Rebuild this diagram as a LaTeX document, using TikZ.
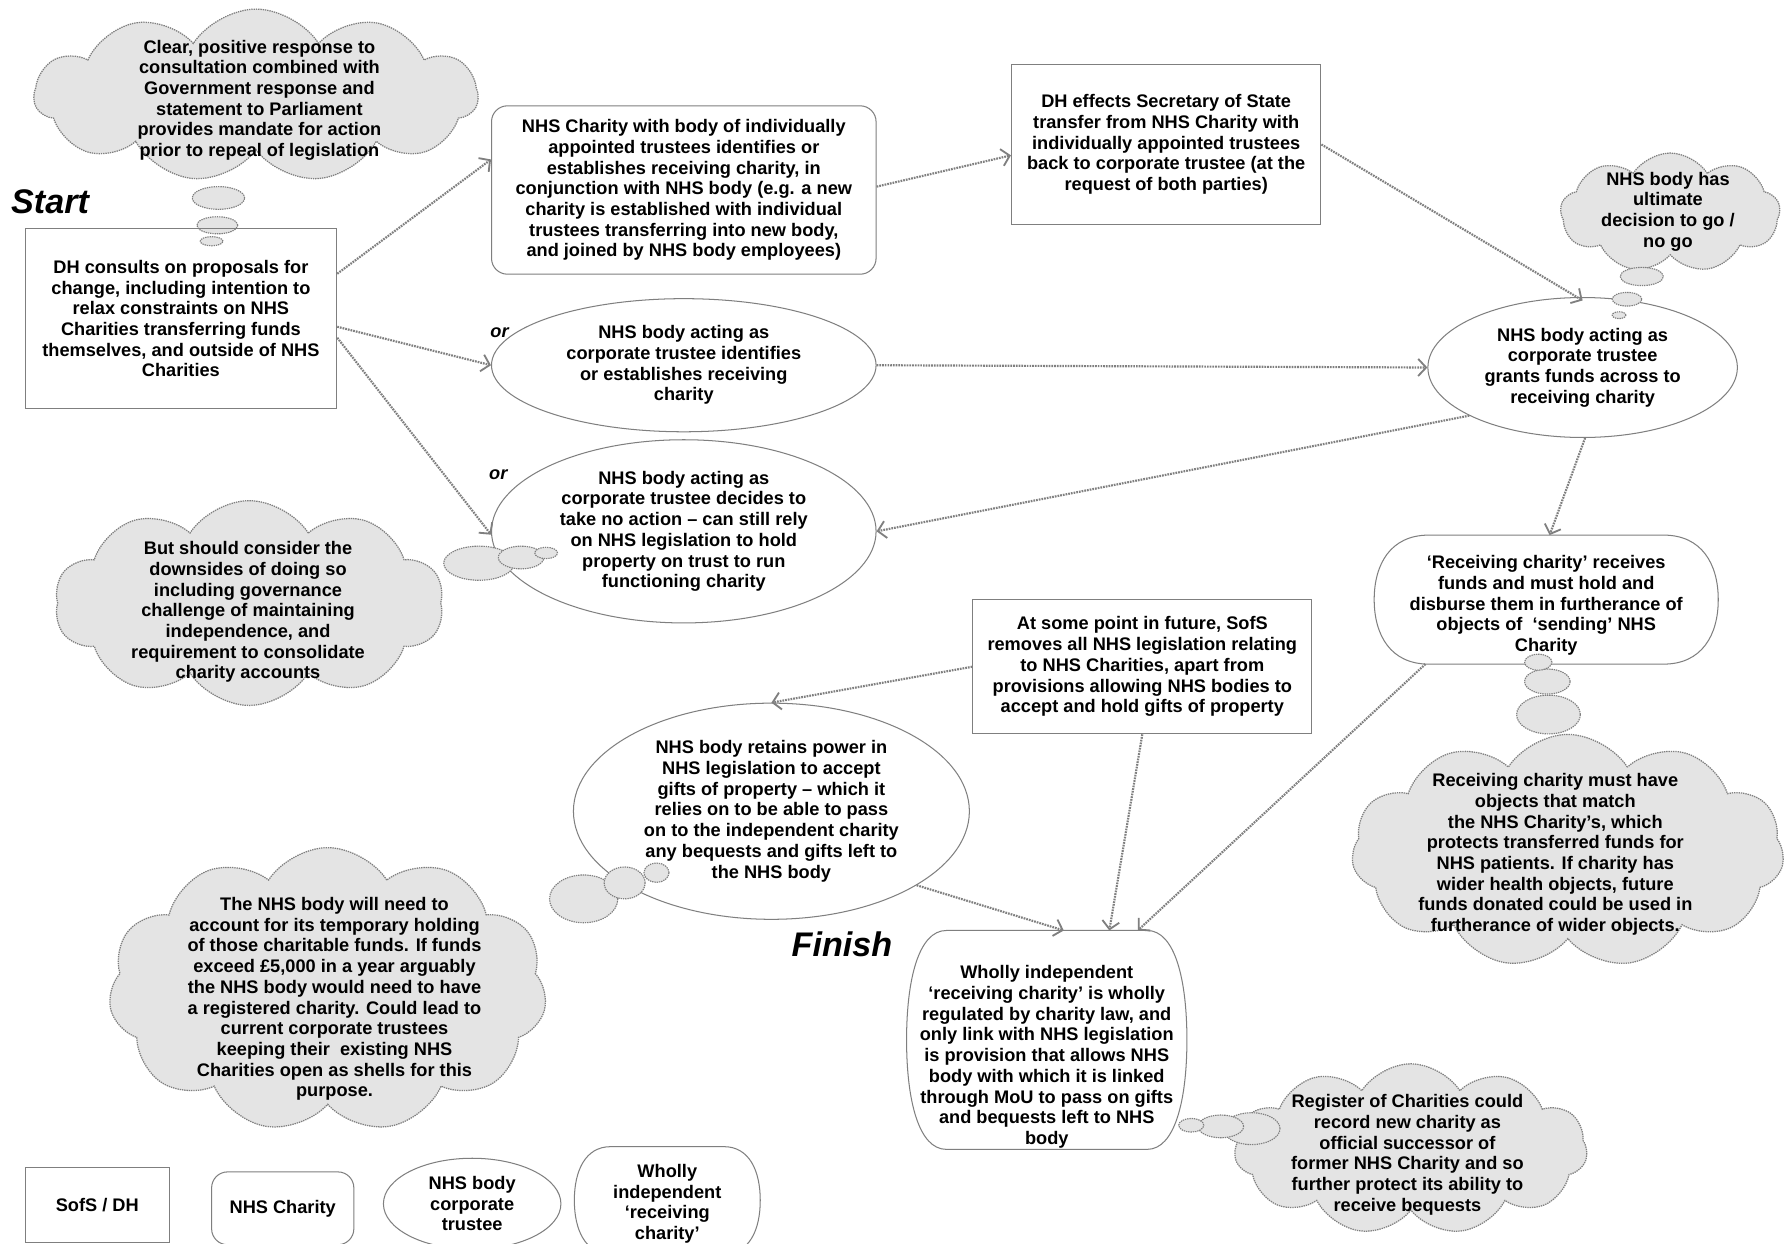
\documentclass[tikz,border=0pt]{standalone}
\usepackage{fontspec}
\setmainfont{Liberation Sans}
\usetikzlibrary{shapes.geometric,shapes.symbols,arrows.meta,calc}
\definecolor{lineg}{HTML}{7F7F7F}
\definecolor{cloudfill}{HTML}{E4E4E4}
\newcommand\barrelpath[2]{%
 \draw[shapeline]
  ([xshift=#2]#1.north west) -- ([xshift=-#2]#1.north east)
  .. controls ([xshift=-0.3*#2]#1.north east) and ($(#1.north east)!0.45!(#1.east)$) .. (#1.east)
  .. controls ($(#1.south east)!0.45!(#1.east)$) and ([xshift=-0.3*#2]#1.south east) .. ([xshift=-#2]#1.south east)
  -- ([xshift=#2]#1.south west)
  .. controls ([xshift=0.3*#2]#1.south west) and ($(#1.south west)!0.45!(#1.west)$) .. (#1.west)
  .. controls ($(#1.north west)!0.45!(#1.west)$) and ([xshift=0.3*#2]#1.north west) .. ([xshift=#2]#1.north west) -- cycle;}
\begin{document}
\begin{tikzpicture}[x=1pt,y=-1pt,
 txt/.style={font=\fontsize{16}{18.2}\selectfont\bfseries, align=center, inner sep=0pt, text=black},
 shapeline/.style={draw=lineg, line width=0.9pt},
 box/.style={txt, shapeline},
 rbox/.style={box, rounded corners=14pt},
 ell/.style={txt, ellipse, shapeline},
 bar/.style={txt},
 cloudy/.style={cloud, cloud puffs=#1, cloud puff arc=115, cloud ignores aspect, draw=lineg, dash pattern=on 1.2pt off 0.8pt, line width=1.1pt, fill=cloudfill, inner sep=0pt},
 bub/.style={ellipse, draw=lineg, dash pattern=on 1.2pt off 0.8pt, line width=1pt, fill=cloudfill, inner sep=0pt},
 conn/.style={draw=lineg, dash pattern=on 1.5pt off 0.9pt, line width=1.9pt, -{Straight Barb[length=7pt,width=15pt,line width=1.6pt]}},
 big/.style={font=\fontsize{30}{30}\selectfont\bfseries\itshape, inner sep=0pt},
 orl/.style={font=\fontsize{16}{18}\selectfont\bfseries\itshape, inner sep=0pt}
]
\useasboundingbox (0,0) rectangle (1568,1093);
\clip (0,0) rectangle (1568,1093);
\fill[white] (0,0) rectangle (1568,1093);

% ---------- clouds ----------
\node[cloudy=11, minimum width=390pt, minimum height=152pt] (c1) at (225,84) {};
\node[txt] (c1t) at (228,88) {Clear, positive response to\\consultation combined with\\Government response and\\statement to Parliament\\provides mandate for action\\prior to repeal of legislation};
\node[bub, minimum width=46pt, minimum height=20pt] (c1b1) at (192,174) {};
\node[bub, minimum width=36pt, minimum height=15pt] (c1b2) at (191,198) {};
\node[bub, minimum width=20pt, minimum height=8pt] (c1b3) at (186,212) {};

\node[cloudy=10, minimum width=342pt, minimum height=180pt] (c2) at (219,530) {};
\node[txt] (c2t) at (218,538) {But should consider the\\downsides of doing so\\including governance\\challenge of maintaining\\independence, and\\requirement to consolidate\\charity accounts};

\node[cloudy=9, minimum width=193pt, minimum height=105pt] (c10) at (1468,187) {};
\node[txt] (c10t) at (1466,186) {NHS body has\\ultimate\\decision to go /\\no go};

\node[cloudy=11, minimum width=380pt, minimum height=205pt] (c13) at (1378,748) {};
\node[txt] (c13t) at (1367,751) {Receiving charity must have\\objects that match\\the NHS Charity’s, which\\protects transferred funds for\\NHS patients. If charity has\\wider health objects, future\\funds donated could be used in\\furtherance of wider objects.};
\node[bub, minimum width=56pt, minimum height=34pt] (c13b1) at (1361,628) {};
\node[bub, minimum width=40pt, minimum height=22pt] (c13b2) at (1360,599) {};

\node[cloudy=11, minimum width=385pt, minimum height=250pt] (c16) at (288,870) {};
\node[txt] (c16t) at (294,878) {The NHS body will need to\\account for its temporary holding\\of those charitable funds. If funds\\exceed £5,000 in a year arguably\\the NHS body would need to have\\a registered charity. Could lead to\\current corporate trustees\\keeping their\ \ existing NHS\\Charities open as shells for this\\purpose.};
\node[bub, minimum width=60pt, minimum height=42pt] (c16b1) at (513,790) {};

\node[cloudy=11, minimum width=310pt, minimum height=150pt] (c19) at (1240,1010) {};
\node[txt] (c19t) at (1237,1015) {Register of Charities could\\record new charity as\\official successor of\\former NHS Charity and so\\further protect its ability to\\receive bequests};
\node[bub, minimum width=50pt, minimum height=28pt] (c19b1) at (1100,992) {};
\node[bub, minimum width=40pt, minimum height=20pt] (c19b2) at (1073,990) {};

% ---------- main shapes ----------
\node[box, minimum width=274pt, minimum height=158pt] (dh) at (159,280) {DH consults on proposals for\\change, including intention to\\relax constraints on NHS\\Charities transferring funds\\themselves, and outside of NHS\\Charities};
\node[rbox, fill=white, minimum width=338pt, minimum height=148pt] (nc) at (601,167) {NHS Charity with body of individually\\appointed trustees identifies or\\establishes receiving charity, in\\conjunction with NHS body (e.g. a new\\charity is established with individual\\trustees transferring into new body,\\and joined by NHS body employees)};
\node[box, minimum width=272pt, minimum height=140pt] (dhe) at (1025,127) {DH effects Secretary of State\\transfer from NHS Charity with\\individually appointed trustees\\back to corporate trustee (at the\\request of both parties)};
\node[ell, fill=white, minimum width=338pt, minimum height=117pt] (e6) at (601,321) {NHS body acting as\\corporate trustee identifies\\or establishes receiving\\charity};
\node[ell, fill=white, minimum width=338pt, minimum height=161pt] (e8) at (601,467) {NHS body acting as\\corporate trustee decides to\\take no action – can still rely\\on NHS legislation to hold\\property on trust to run\\functioning charity};
\node[ell, fill=white, minimum width=272pt, minimum height=123pt] (e11) at (1391,323) {NHS body acting as\\corporate trustee\\grants funds across to\\receiving charity};
\node[bub, minimum width=38pt, minimum height=16pt] (c10b1) at (1443,243) {};
\node[bub, minimum width=26pt, minimum height=12pt] (c10b2) at (1430,263) {};
\node[bub, minimum width=12pt, minimum height=6pt] (c10b3) at (1423,277) {};
\node[bar, minimum width=302pt, minimum height=113pt] (rc) at (1359,527) {};
\barrelpath{rc}{48pt}
\node[txt] (rct) at (1359,532) {‘Receiving charity’ receives\\funds and must hold and\\disburse them in furtherance of\\objects of\ \ ‘sending’ NHS\\Charity};
\node[bub, minimum width=24pt, minimum height=14pt] (c13b3) at (1352,582) {};
\node[box, fill=white, minimum width=298pt, minimum height=118pt] (sofs) at (1004,586) {At some point in future, SofS\\removes all NHS legislation relating\\to NHS Charities, apart from\\provisions allowing NHS bodies to\\accept and hold gifts of property};
\node[ell, fill=white, minimum width=348pt, minimum height=190pt] (e15) at (678,713) {NHS body retains power in\\NHS legislation to accept\\gifts of property – which it\\relies on to be able to pass\\on to the independent charity\\any bequests and gifts left to\\the NHS body};
\node[bub, minimum width=36pt, minimum height=28pt] (c16b2) at (549,776) {};
\node[bub, minimum width=22pt, minimum height=17pt] (c16b3) at (577,767) {};
\node[bar, minimum width=246pt, minimum height=192pt] (fin) at (920,914) {};
\barrelpath{fin}{35pt}
\node[txt] (fint) at (920,929) {Wholly independent\\‘receiving charity’ is wholly\\regulated by charity law, and\\only link with NHS legislation\\is provision that allows NHS\\body with which it is linked\\through MoU to pass on gifts\\and bequests left to NHS\\body};
\node[bub, minimum width=22pt, minimum height=12pt] (c19b3) at (1047,989) {};

% bubbles over ellipse e8
\node[bub, minimum width=62pt, minimum height=30pt] (c2b1) at (421,495) {};
\node[bub, minimum width=40pt, minimum height=20pt] (c2b2) at (458,490) {};
\node[bub, minimum width=20pt, minimum height=10pt] (c2b3) at (480,486) {};

% ---------- labels ----------
\node[big] (start) at (44,177) {Start};
\node[big] (finish) at (740,830) {Finish};
\node[orl] (or1) at (439,292) {or};
\node[orl] (or2) at (438,417) {or};

% ---------- connectors ----------
\draw[conn] (dh.16) -- (nc.171);
\draw[conn] (dh.-3) -- (e6.west);
\draw[conn] (dh.-7) -- (e8.181);
\draw[conn] (nc.1) -- (dhe.184);
\draw[conn] (dhe.east) -- ([yshift=-3pt]e11.north);
\draw[conn] (e6.east) -- (e11.west);
\draw[conn] (e11.203) -- (e8.east);
\draw[conn] (e11.-88) -- ([xshift=3pt]rc.north);
\draw[conn] (sofs.west) -- (e15.north);
\draw[conn] (e15.-27) -- ([xshift=15pt]fin.north);
\draw[conn] (sofs.south) -- ([xshift=55pt]fin.north);
\draw[conn] ([xshift=45pt]rc.south west) -- ([xshift=80pt]fin.north);

% ---------- legend ----------
\node[box, minimum width=127pt, minimum height=66pt] (lg1) at (85.5,1059) {SofS / DH};
\node[rbox, minimum width=125pt, minimum height=64pt] (lg2) at (248.5,1062) {NHS Charity};
\node[ell, minimum width=156pt, minimum height=80pt] (lg3) at (415,1058) {NHS body\\corporate\\trustee};
\node[bar, minimum width=163pt, minimum height=94pt] (lg4) at (586.5,1055) {};
\barrelpath{lg4}{32pt}
\node[txt] (lg4t) at (586.5,1058) {Wholly\\independent\\‘receiving\\charity’};
\end{tikzpicture}
\end{document}
